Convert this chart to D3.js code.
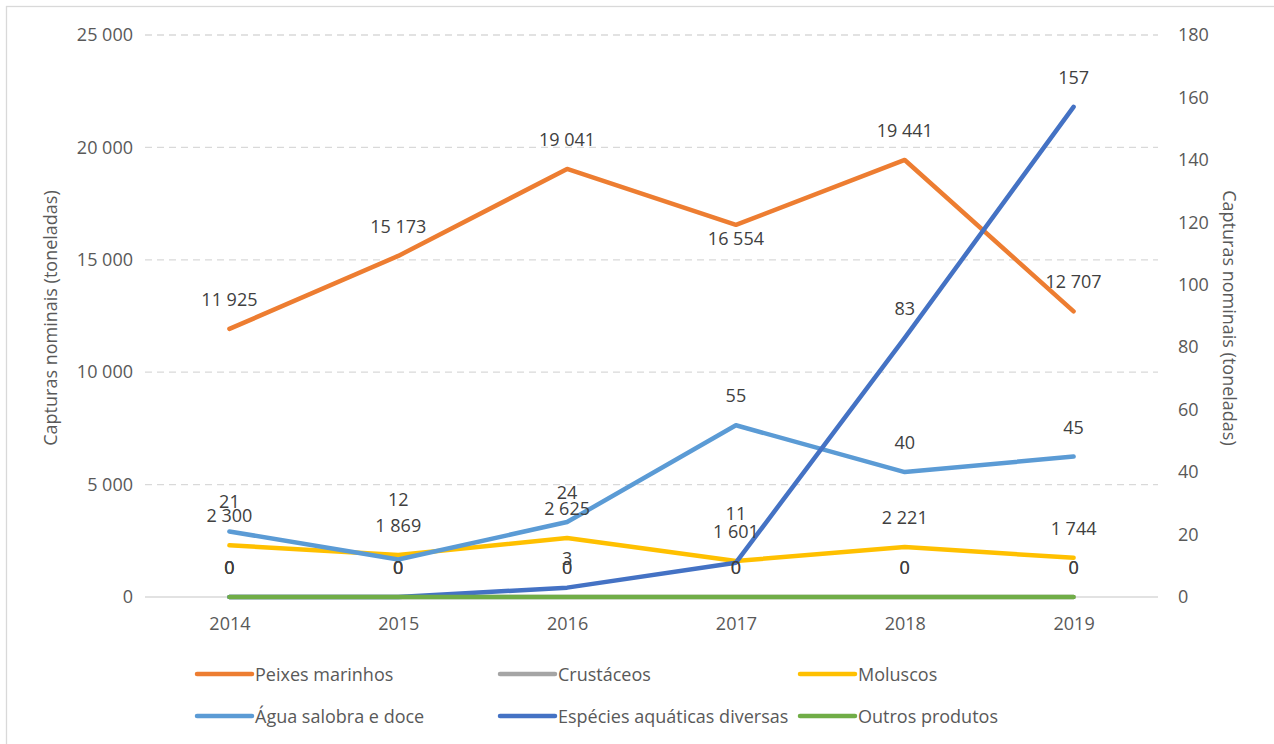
<!DOCTYPE html>
<html>
<head>
<meta charset="utf-8">
<script src="https://cdn.jsdelivr.net/npm/d3@7"></script>
<style>
  body { margin: 0; background: #fff; }
  svg { display: block; font-family: "Open Sans", sans-serif; }
</style>
</head>
<body>
<svg id="chart" width="1274" height="744"></svg>
<script>
// anos e series (toneladas)
const years = ["2014", "2015", "2016", "2017", "2018", "2019"];
const peixesMarinhos = [11925, 15173, 19041, 16554, 19441, 12707];
const crustaceos = [0, 0, 0, 0, 0, 0];
const moluscos = [2300, 1869, 2625, 1601, 2221, 1744];
const aguaSalobraDoce = [21, 12, 24, 55, 40, 45];
const especiesDiversas = [0, 0, 3, 11, 83, 157];
const outrosProdutos = [0, 0, 0, 0, 0, 0];

const leftTicks = [0, 5000, 10000, 15000, 20000, 25000];
const rightTicks = [0, 20, 40, 60, 80, 100, 120, 140, 160, 180];
const axisTitle = "Capturas nominais (toneladas)";

const series = [
  { name: "Peixes marinhos", values: peixesMarinhos, color: "#ED7D31", axis: "left" },
  { name: "Crustáceos", values: crustaceos, color: "#A5A5A5", axis: "left" },
  { name: "Moluscos", values: moluscos, color: "#FFC000", axis: "left" },
  { name: "Água salobra e doce", values: aguaSalobraDoce, color: "#5B9BD5", axis: "right" },
  { name: "Espécies aquáticas diversas", values: especiesDiversas, color: "#4472C4", axis: "right" },
  { name: "Outros produtos", values: outrosProdutos, color: "#70AD47", axis: "right" }
];

// ajustes manuais de rótulos (como o Excel fez)
const labelNudge = {
  "Peixes marinhos|2017": 43,
  "Água salobra e doce|2015": -31,
  "Espécies aquáticas diversas|2017": -20
};

const svg = d3.select("#chart");
const plot = { left: 145, right: 1158, top: 35, bottom: 597 };

const fmt = d3.formatLocale({ decimal: ",", thousands: " ", grouping: [3], currency: ["", ""] }).format(",d");

const x = d3.scalePoint().domain(years).range([plot.left, plot.right]).padding(0.5);
const yL = d3.scaleLinear().domain([0, 25000]).range([plot.bottom, plot.top]);
const yR = d3.scaleLinear().domain([0, 180]).range([plot.bottom, plot.top]);

// moldura
svg.append("rect")
  .attr("x", 6.5).attr("y", 6.5)
  .attr("width", 1300).attr("height", 800)
  .attr("fill", "none").attr("stroke", "#d9d9d9").attr("stroke-width", 1.3);

// grelha
svg.append("g").selectAll("line")
  .data(leftTicks)
  .join("line")
  .attr("x1", plot.left).attr("x2", plot.right)
  .attr("y1", d => yL(d)).attr("y2", d => yL(d))
  .attr("stroke", "#d9d9d9")
  .attr("stroke-width", 1.3)
  .attr("stroke-dasharray", d => d === 0 ? null : "7,5");

// eixo esquerdo
const axL = svg.append("g").attr("transform", `translate(${plot.left - 12},0)`)
  .call(d3.axisLeft(yL).tickValues(leftTicks).tickFormat(fmt).tickSize(0).tickPadding(0));
axL.select(".domain").remove();
axL.selectAll("text").attr("font-size", 18).attr("fill", "#595959").attr("font-family", "Open Sans");

// eixo direito
const axR = svg.append("g").attr("transform", `translate(${plot.right + 20},0)`)
  .call(d3.axisRight(yR).tickValues(rightTicks).tickSize(0).tickPadding(0));
axR.select(".domain").remove();
axR.selectAll("text").attr("font-size", 18).attr("fill", "#595959").attr("font-family", "Open Sans");

// eixo x
const axX = svg.append("g").attr("transform", `translate(0,${plot.bottom + 20})`)
  .call(d3.axisBottom(x).tickSize(0).tickPadding(0));
axX.select(".domain").remove();
axX.selectAll("text").attr("font-size", 18).attr("fill", "#595959").attr("font-family", "Open Sans");

// títulos dos eixos
svg.append("text")
  .attr("transform", `translate(50,${(plot.top + plot.bottom) / 2 + 2}) rotate(-90)`)
  .attr("text-anchor", "middle").attr("dominant-baseline", "central")
  .attr("font-size", 18).attr("fill", "#595959")
  .text(axisTitle);
svg.append("text")
  .attr("transform", `translate(1230,${(plot.top + plot.bottom) / 2 + 2}) rotate(90)`)
  .attr("text-anchor", "middle").attr("dominant-baseline", "central")
  .attr("font-size", 18).attr("fill", "#595959")
  .text(axisTitle);

// linhas
const lineGen = scale => d3.line().x((d, i) => x(years[i])).y(d => scale(d));
svg.append("g").selectAll("path")
  .data(series)
  .join("path")
  .attr("d", s => lineGen(s.axis === "left" ? yL : yR)(s.values))
  .attr("fill", "none")
  .attr("stroke", s => s.color)
  .attr("stroke-width", 4.5)
  .attr("stroke-linecap", "round")
  .attr("stroke-linejoin", "round");

// rótulos de dados
const labels = [];
series.forEach(s => {
  const sc = s.axis === "left" ? yL : yR;
  s.values.forEach((v, i) => {
    const nudge = labelNudge[s.name + "|" + years[i]] || 0;
    labels.push({ x: x(years[i]), y: sc(v) - 30 + nudge, text: fmt(v) });
  });
});
svg.append("g").selectAll("text")
  .data(labels)
  .join("text")
  .attr("x", d => d.x).attr("y", d => d.y)
  .attr("text-anchor", "middle").attr("dominant-baseline", "central")
  .attr("font-size", 18).attr("fill", "#404040")
  .text(d => d.text);

// legenda
const legCols = [197, 500, 800];
const legRows = [674, 716];
const leg = svg.append("g").selectAll("g")
  .data(series)
  .join("g")
  .attr("transform", (d, i) => `translate(${legCols[i % 3]},${legRows[Math.floor(i / 3)]})`);
leg.append("line")
  .attr("x1", 0).attr("x2", 55)
  .attr("stroke", d => d.color).attr("stroke-width", 4.5).attr("stroke-linecap", "round");
leg.append("text")
  .attr("x", 58).attr("dominant-baseline", "central")
  .attr("font-size", 18).attr("fill", "#595959")
  .text(d => d.name);
</script>
</body>
</html>
